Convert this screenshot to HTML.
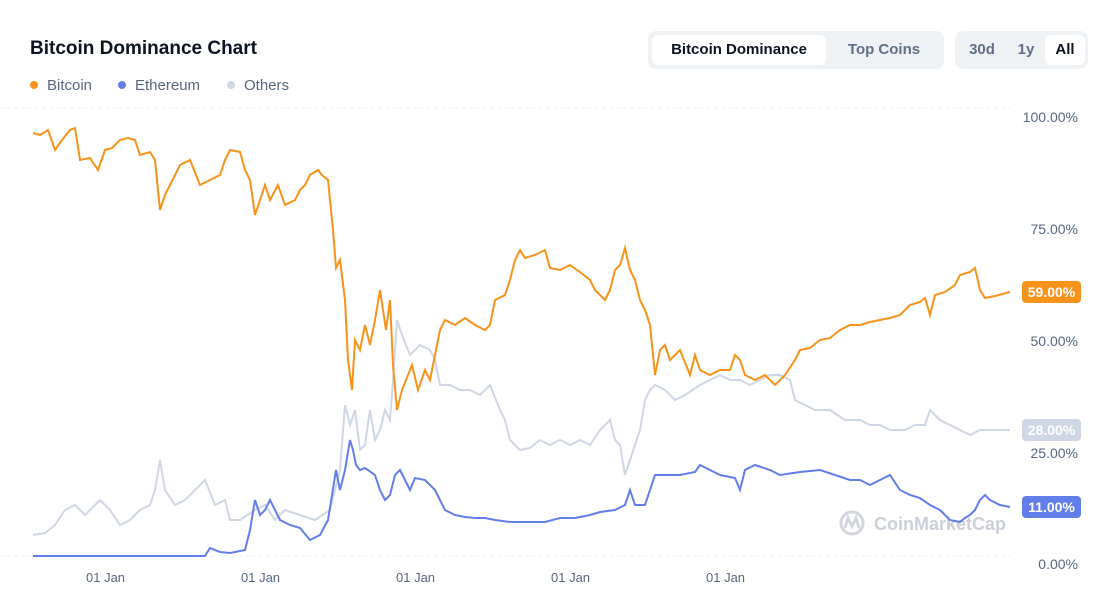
<!DOCTYPE html>
<html><head><meta charset="utf-8"><style>
body{margin:0;width:1115px;height:605px;background:#fff;font-family:"Liberation Sans",sans-serif;overflow:hidden;position:relative}
.t{position:absolute;left:30px;top:38px;font-size:19px;font-weight:bold;color:#0d1421}
.leg{position:absolute;top:77px;font-size:15px;color:#58667e}
.leg i{display:inline-block;width:8px;height:8px;border-radius:50%;margin-right:9px;vertical-align:1px}
.seg{position:absolute;top:31px;height:38px;background:#eff2f5;border-radius:8px}
.seg span{position:absolute;top:4px;height:30px;line-height:30px;font-size:15px;font-weight:bold;text-align:center;border-radius:6px;color:#616e85}
.on{background:#fff;color:#0d1421!important}
.yl{position:absolute;right:37px;font-size:14px;color:#58667e}
.xl{position:absolute;top:570px;font-size:13px;color:#58667e}
.b{position:absolute;left:1022px;width:59px;height:22px;line-height:22px;border-radius:4px;color:#fff;font-weight:bold;font-size:14px;text-align:center}
</style></head><body>
<div class="t">Bitcoin Dominance Chart</div>
<div class="leg" style="left:30px"><i style="background:#f7931a"></i>Bitcoin</div>
<div class="leg" style="left:118px"><i style="background:#627eea"></i>Ethereum</div>
<div class="leg" style="left:227px"><i style="background:#cfd6e4"></i>Others</div>
<div class="seg" style="left:648px;width:296px"><span class="on" style="left:4px;width:174px">Bitcoin Dominance</span><span style="left:180px;width:112px">Top Coins</span></div>
<div class="seg" style="left:955px;width:133px"><span style="left:2px;width:50px">30d</span><span style="left:52px;width:38px">1y</span><span class="on" style="left:90px;width:40px">All</span></div>
<div class="yl" style="top:109px">100.00%</div>
<div class="yl" style="top:221px">75.00%</div>
<div class="yl" style="top:333px">50.00%</div>
<div class="yl" style="top:445px">25.00%</div>
<div class="yl" style="top:556px">0.00%</div>
<div class="xl" style="left:86px">01 Jan</div>
<div class="xl" style="left:241px">01 Jan</div>
<div class="xl" style="left:396px">01 Jan</div>
<div class="xl" style="left:551px">01 Jan</div>
<div class="xl" style="left:706px">01 Jan</div>
<svg width="1115" height="605" style="position:absolute;left:0;top:0">
<line x1="0" y1="108" x2="1010" y2="108" stroke="#eff2f5" stroke-dasharray="4 3"/>
<line x1="0" y1="556" x2="1010" y2="556" stroke="#eff2f5" stroke-dasharray="4 3"/>
<g opacity="0.35" fill="none" stroke="#808a9d" stroke-width="3"><circle cx="852" cy="523" r="11"/><path d="M845 528 L848 518 L852 526 L856 518 L859 528"/></g>
<text x="874" y="530" font-family="Liberation Sans" font-size="18" font-weight="bold" fill="#808a9d" opacity="0.4">CoinMarketCap</text>
<polyline fill="none" stroke="#cfd6e4" stroke-width="2" points="33,535 45,533 55,525 65,510 75,505 85,515 100,500 110,510 120,525 130,520 140,510 150,505 155,490 160,460 165,490 175,505 185,500 195,490 205,480 215,505 225,500 230,520 240,520 255,510 265,505 275,520 285,510 300,515 315,520 330,510 340,470 345,405 350,425 355,410 360,450 365,445 370,410 375,440 380,430 385,410 390,420 393,380 397,320 402,335 410,355 420,345 430,350 435,360 440,385 450,385 460,390 470,390 480,395 490,385 500,410 505,420 510,440 520,450 530,448 540,440 550,445 560,440 570,445 580,440 590,445 600,430 605,425 610,420 615,440 620,445 625,475 630,460 635,445 640,430 645,400 650,390 655,385 665,390 675,400 685,395 700,385 710,380 720,375 730,380 740,380 750,385 760,380 770,375 780,375 790,380 795,400 805,405 815,410 830,410 845,420 860,420 870,425 880,425 890,430 905,430 915,425 925,425 930,410 940,420 950,425 960,430 970,435 980,430 1000,430 1010,430"/>
<polyline fill="none" stroke="#627eea" stroke-width="2" points="33,556 205,556 210,548 220,552 230,553 245,550 250,530 255,500 260,515 265,510 270,500 280,520 290,525 300,528 310,540 320,535 328,520 332,495 336,470 340,490 345,470 350,440 353,450 356,465 360,470 365,468 375,475 380,490 385,500 390,495 395,475 400,470 405,480 410,490 415,478 425,480 435,490 440,500 445,510 455,515 465,517 475,518 485,518 495,520 510,522 525,522 545,522 560,518 575,518 590,515 600,512 615,510 625,505 630,490 635,505 645,505 655,475 665,475 680,475 695,472 700,465 710,470 720,475 735,478 740,490 745,470 755,465 770,470 780,475 800,472 820,470 835,475 850,480 860,480 870,485 880,480 890,475 900,490 910,495 920,498 930,505 940,510 950,520 960,522 965,518 970,515 975,510 980,500 985,495 990,500 1000,505 1010,507"/>
<polyline fill="none" stroke="#f7931a" stroke-width="2" points="33,133 40,135 48,130 55,150 62,140 70,130 75,128 80,160 90,158 98,170 105,150 112,148 120,140 128,138 135,140 140,155 150,152 155,160 160,210 165,195 175,175 180,165 190,160 200,185 210,180 220,175 225,160 230,150 240,152 245,170 250,180 255,215 260,200 265,185 270,200 278,185 285,205 295,200 300,190 305,185 310,175 318,170 322,175 328,180 333,230 336,268 340,260 345,300 348,360 352,390 355,340 360,350 365,325 370,345 375,320 380,290 383,310 386,330 390,300 393,365 397,410 402,390 408,375 412,365 418,390 425,370 430,380 440,330 445,320 455,325 465,318 475,325 485,330 490,325 495,300 505,295 510,280 515,260 520,250 525,258 535,255 545,250 550,268 560,270 570,265 580,272 590,280 595,290 605,300 610,290 615,270 620,265 625,248 630,270 635,280 640,300 645,310 650,325 655,375 660,350 665,345 670,360 680,350 690,375 695,355 700,370 710,375 720,370 730,370 735,355 740,360 745,375 755,380 765,375 775,385 785,375 795,360 800,350 810,348 820,340 830,338 840,330 850,325 860,325 870,322 880,320 890,318 900,315 910,305 920,302 925,298 930,315 935,295 945,292 955,285 960,275 970,272 975,268 980,290 985,298 995,296 1010,292"/>
</svg>
<div class="b" style="top:281px;background:#f7931a">59.00%</div>
<div class="b" style="top:419px;background:#cfd6e4">28.00%</div>
<div class="b" style="top:496px;background:#627eea">11.00%</div>
</body></html>
